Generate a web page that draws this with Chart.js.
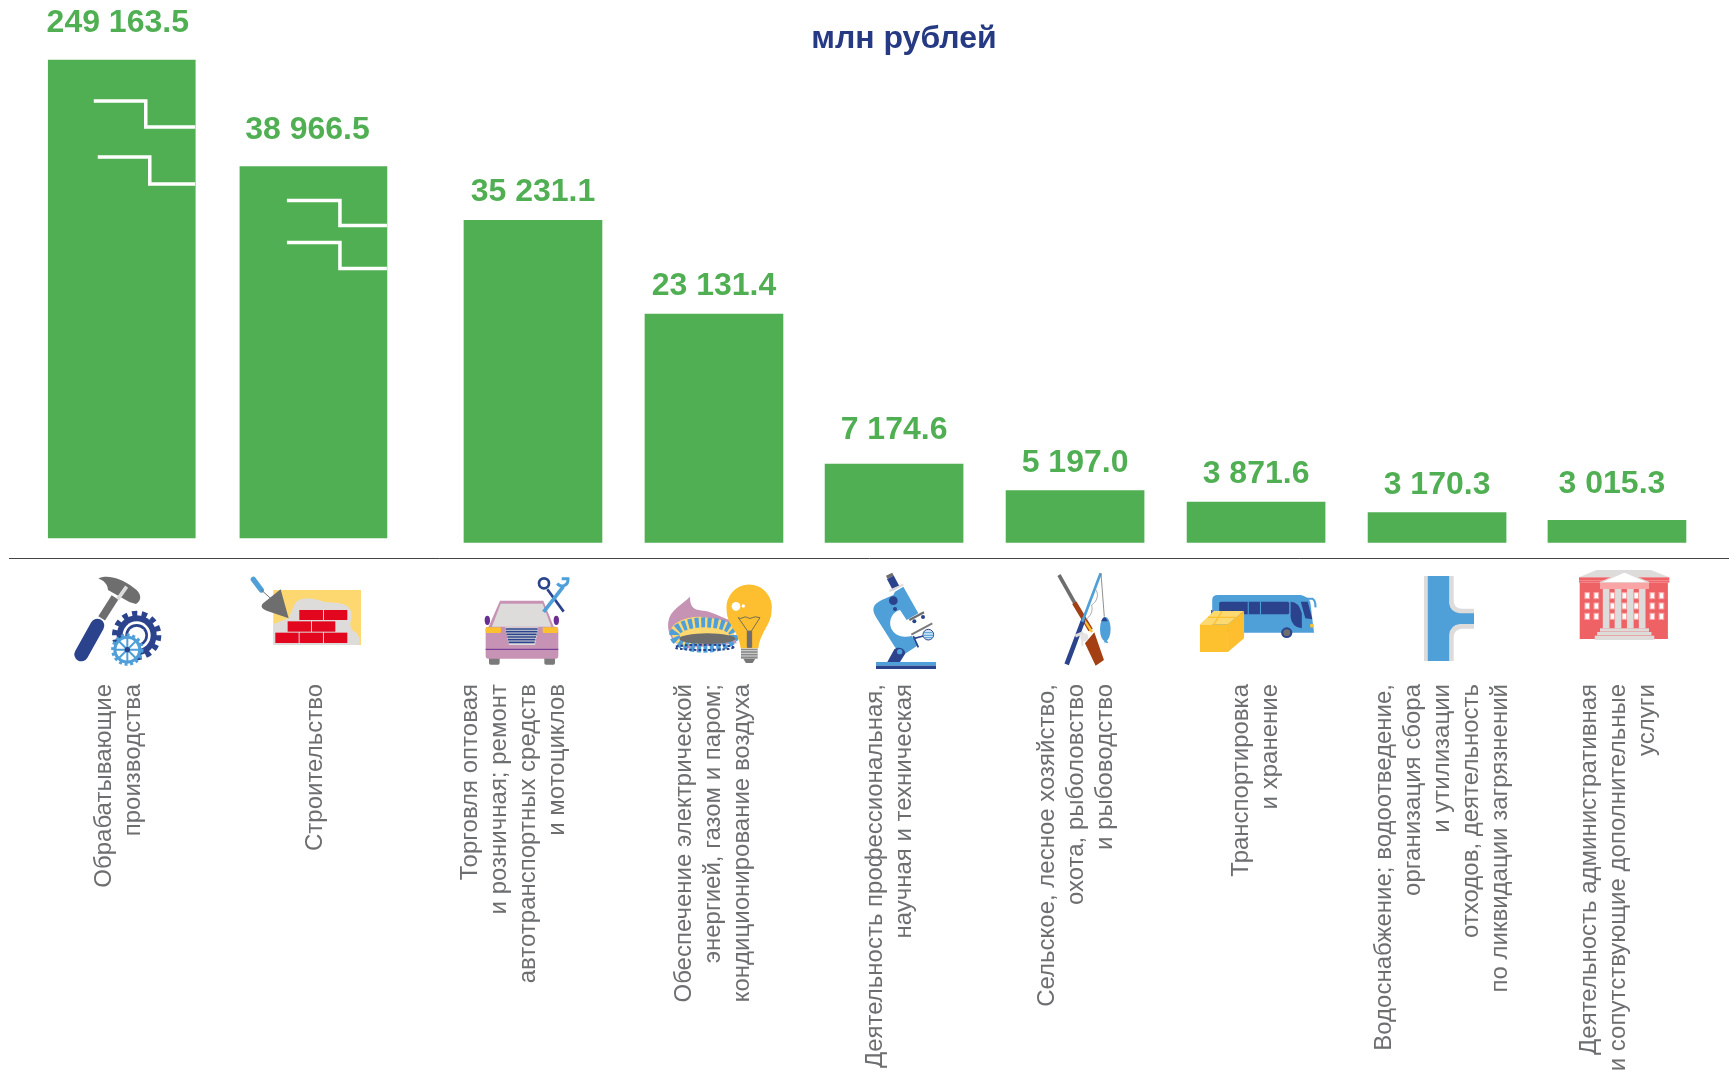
<!DOCTYPE html>
<html lang="ru">
<head>
<meta charset="utf-8">
<title>млн рублей</title>
<script src="https://cdn.jsdelivr.net/npm/chart.js@4"></script>
<style>
  html, body { margin: 0; padding: 0; background: #fff; overflow: hidden; }
  #box { position: relative; width: 1729px; height: 1073px; }
  #chart { position: absolute; left: 0; top: 0; }
  #icons { position: absolute; left: 0; top: 0; pointer-events: none; }
</style>
</head>
<body>
<div id="box">
<canvas id="chart" width="1729" height="1073"></canvas>
<svg id="icons" width="1729" height="1073" viewBox="0 0 1729 1073">
  <!-- молоток и шестерни -->
  <g transform="translate(40,560) scale(.3333)">
    <path d="M185 175 L225 112" stroke="#6e6e6e" stroke-width="24" fill="none"/>
    <path d="M124 283 L172 197" stroke="#2a438c" stroke-width="42" stroke-linecap="round" fill="none"/>
    <path d="M175 56 C195 44 240 50 282 84 C306 100 306 122 288 132 L268 126 L204 90 C204 72 190 60 175 56Z" fill="#6e6e6e"/>
    <path d="M233 118 L260 80" stroke="#dedcdb" stroke-width="11" fill="none"/>
    <circle cx="290" cy="226" r="60" fill="#2a438c"/>
    <circle cx="290" cy="226" r="66" fill="none" stroke="#2a438c" stroke-width="16" stroke-dasharray="16 13.5"/>
    <circle cx="290" cy="226" r="42" fill="#fff"/>
    <circle cx="290" cy="226" r="34" fill="#2a438c"/>
    <circle cx="290" cy="226" r="26" fill="#fff"/>
    <circle cx="262" cy="269" r="38" fill="none" stroke="#4f9fd9" stroke-width="8"/>
    <circle cx="262" cy="269" r="44" fill="none" stroke="#4f9fd9" stroke-width="9" stroke-dasharray="9 8"/>
    <circle cx="262" cy="269" r="36" fill="#fff"/>
    <circle cx="262" cy="269" r="36" fill="none" stroke="#4f9fd9" stroke-width="7"/>
    <path d="M262 233 V305 M226 269 H298 M237 244 L287 294 M287 244 L237 294" stroke="#4f9fd9" stroke-width="6"/>
    <circle cx="262" cy="269" r="8" fill="#2a438c"/>
  </g>
  <!-- кирпичная кладка -->
  <g transform="translate(40,560) scale(.3333)">
    <rect x="700" y="90" width="263" height="165" fill="#fdd870"/>
    <path d="M700 192 L745 175 L765 130 C780 108 830 115 850 125 C890 130 930 125 935 160 C935 190 920 200 950 220 C965 240 960 255 955 255 L700 255Z" fill="#dedcdb"/>
    <g fill="#e2061e">
      <rect x="778" y="150" width="71" height="30"/><rect x="852" y="150" width="70" height="30"/>
      <rect x="743" y="184" width="70" height="31"/><rect x="816" y="184" width="70" height="31"/>
      <rect x="706" y="218" width="70" height="31"/><rect x="779" y="218" width="70" height="31"/><rect x="852" y="218" width="70" height="31"/>
    </g>
    <path d="M640 58 L664 90" stroke="#4f9fd9" stroke-width="16" stroke-linecap="round"/>
    <path d="M664 90 L695 118" stroke="#6e6e6e" stroke-width="3"/>
    <path d="M722 88 L746 175 L680 152 C662 145 660 135 675 125Z" fill="#6e6e6e"/>
  </g>
  <!-- автомобиль -->
  <g transform="translate(460,560) scale(.3333)">
    <rect x="87" y="290" width="32" height="24" rx="5" fill="#7a7a7a"/><rect x="253" y="290" width="32" height="24" rx="5" fill="#7a7a7a"/>
    <ellipse cx="82" cy="181" rx="8" ry="14" fill="#6a2d91"/><ellipse cx="289" cy="181" rx="8" ry="14" fill="#6a2d91"/>
    <path d="M120 122 H250 L283 205 H84Z" fill="#c693b4"/>
    <rect x="77" y="200" width="218" height="96" rx="8" fill="#c693b4"/>
    <path d="M122 131 H248 L274 200 H96Z" fill="#dedcdb"/>
    <rect x="77" y="202" width="46" height="17" rx="4" fill="#fdc02f"/><rect x="248" y="202" width="46" height="17" rx="4" fill="#fdc02f"/>
    <path d="M135 202 H235 L225 255 H147Z" fill="#dedcdb"/>
    <path d="M137 207 H233 M138 215 H232 M140 223 H230 M142 231 H228 M144 239 H226 M146 247 H224" stroke="#2a438c" stroke-width="5"/>
    <path d="M77 268 H295" stroke="#6a2d91" stroke-width="3"/>
    <path d="M311 155 L262 88" stroke="#2a438c" stroke-width="8"/>
    <circle cx="252" cy="70" r="15" fill="none" stroke="#2a438c" stroke-width="8"/>
    <path d="M251 156 L310 80" stroke="#4f9fd9" stroke-width="11"/>
    <path d="M292 70 C302 85 326 78 324 56 L305 56" fill="none" stroke="#4f9fd9" stroke-width="9"/>
  </g>
  <!-- горелка и лампочка -->
  <g transform="translate(460,560) scale(.3333)">
    <path d="M690 110 C690 140 700 150 730 152 C760 155 790 175 810 180 L830 250 L680 265 C640 255 620 220 625 185 C630 150 665 135 690 110Z" fill="#c693b4"/>
    <path d="M632 210 C640 185 680 170 720 170 C770 175 800 180 822 200 L822 240 L660 260 C645 245 635 230 632 210Z" fill="#fdd870"/>
    <ellipse cx="733" cy="225" rx="90" ry="38" fill="none" stroke="#4f9fd9" stroke-width="30" stroke-dasharray="12 7"/>
    <ellipse cx="733" cy="262" rx="88" ry="8" fill="none" stroke="#2a438c" stroke-width="6" stroke-dasharray="8 6"/>
    <ellipse cx="742" cy="236" rx="84" ry="16" fill="#6e6e6e"/>
    <path d="M800 150 A68 68 0 1 1 935 150 C935 195 900 215 895 265 H842 C838 215 800 195 800 150Z" fill="#fdbf2f"/>
    <circle cx="828" cy="139" r="13" fill="#fff"/><circle cx="850" cy="138" r="5" fill="#fff"/>
    <path d="M835 173 Q842 178 849 173 T863 173 T877 173 T900 173 L875 212 V262 H862 V212Z" fill="none" stroke="#5a5a5a" stroke-width="2.5"/>
    <rect x="862" y="212" width="13" height="50" fill="#6e6e6e"/>
    <rect x="843" y="266" width="50" height="30" fill="#8a8a8a"/>
    <path d="M843 272 H893 M843 280 H893 M843 288 H893" stroke="#fff" stroke-width="2"/>
    <path d="M850 296 H886 L878 309 H858Z" fill="#777"/>
  </g>
  <!-- микроскоп -->
  <g transform="translate(850,560) scale(.3333)">
    <rect x="78" y="306" width="180" height="11" fill="#4f9fd9"/><rect x="78" y="317" width="180" height="10" fill="#2a438c"/>
    <path d="M135 95 L160 80 L205 160 L170 180 L150 150 C125 155 110 190 130 215 C145 232 170 232 185 228 L205 255 L160 285 L135 262 L80 175 C65 150 65 135 95 120 L130 105Z" fill="#4f9fd9"/>
    <path d="M112 306 L133 268 C150 256 168 270 165 282 L150 306Z" fill="#2a438c"/>
    <circle cx="149" cy="275" r="8" fill="#4f9fd9"/>
    <path d="M121 52 L139 86" stroke="#2a438c" stroke-width="23"/>
    <path d="M110 52 L129 43" stroke="#6e6e6e" stroke-width="10"/>
    <path d="M118 93 L160 74" stroke="#dedcdb" stroke-width="6"/>
    <circle cx="130" cy="122" r="13" fill="#2a438c"/><circle cx="135" cy="147" r="6" fill="#2a438c"/>
    <path d="M178 180 L222 157" stroke="#6e6e6e" stroke-width="7"/>
    <circle cx="193" cy="184" r="6" fill="#2a438c"/><circle cx="219" cy="171" r="6" fill="#2a438c"/>
    <path d="M184 224 L247 190" stroke="#7a7a7a" stroke-width="6"/>
    <path d="M190 236 L220 228 M190 228 L205 262" stroke="#2a438c" stroke-width="5"/>
    <circle cx="235" cy="224" r="16" fill="#cfe3f3" stroke="#2a438c" stroke-width="3"/>
    <path d="M222 218 L248 218 M220 226 L250 226 M223 233 L247 233" stroke="#4f9fd9" stroke-width="3"/>
  </g>
  <!-- охота и рыболовство -->
  <g transform="translate(850,560) scale(.3333)">
    <path d="M627 45 L675 130" stroke="#6e6e6e" stroke-width="11"/>
    <path d="M673 128 L722 210" stroke="#a33f13" stroke-width="15"/>
    <path d="M704 182 L726 216" stroke="#fdbf2f" stroke-width="7"/>
    <path d="M705 250 L733 217 L762 300 L737 317Z" fill="#a33f13"/>
    <path d="M650 313 L700 180" stroke="#2a438c" stroke-width="14"/>
    <path d="M697 185 L752 40" stroke="#4f9fd9" stroke-width="8"/>
    <path d="M753 40 L763 170" stroke="#7a7a7a" stroke-width="2.5"/>
    <path d="M735 85 C750 105 740 125 725 135 C730 155 720 170 708 178" fill="none" stroke="#9a9a9a" stroke-width="2.5"/>
    <path d="M676 228 L700 218" stroke="#dedcdb" stroke-width="9"/>
    <circle cx="703" cy="232" r="12" fill="#e4e4e4"/><path d="M697 240 V258" stroke="#e4e4e4" stroke-width="6"/>
    <ellipse cx="766" cy="207" rx="16" ry="36" fill="#4f9fd9"/>
    <path d="M766 235 L776 250 L762 247Z" fill="#4f9fd9"/>
    <path d="M754 184 Q763 160 773 184Z" fill="#2a438c"/>
  </g>
  <!-- автобус и груз -->
  <g transform="translate(1180,560) scale(.35,.3333)">
    <rect x="89" y="150" width="6" height="16" fill="#e2061e"/>
    <path d="M92 120 Q92 105 108 105 H345 Q365 110 372 125 L383 218 H92Z" fill="#4f9fd9"/>
    <rect x="112" y="125" width="200" height="38" rx="5" fill="#2a438c"/>
    <path d="M195 125 V163 M230 125 V163" stroke="#4f9fd9" stroke-width="3"/>
    <path d="M316 125 Q340 125 348 160 V205 Q318 200 316 170Z" fill="#2a438c"/>
    <path d="M345 125 H365 L378 178 L358 175Z" fill="#2a438c"/>
    <path d="M360 116 H378 Q388 122 387 142" fill="none" stroke="#4f9fd9" stroke-width="6"/>
    <circle cx="305" cy="218" r="16" fill="#2a438c"/><circle cx="305" cy="218" r="10" fill="#6e6e6e"/>
    <rect x="372" y="192" width="10" height="10" fill="#fdbf2f"/>
    <path d="M57 193 H137 V276 H57Z" fill="#fdc02f"/>
    <path d="M57 193 L97 153 H183 L137 193Z" fill="#fed970"/>
    <path d="M137 193 L183 153 V235 L137 276Z" fill="#fdbf2f"/>
    <path d="M80 172 H160 M120 153 L97 193" stroke="#fdc02f" stroke-width="4"/>
  </g>
  <!-- труба -->
  <g transform="translate(1180,560) scale(.35,.3333)">
    <path d="M697 48 H782 V125 Q785 145 805 146 H840 V206 H805 Q785 208 782 228 V303 H697Z" fill="#dedcdb"/>
    <path d="M708 48 H769 V130 Q772 158 800 160 H840 V192 H800 Q772 195 769 225 V303 H708Z" fill="#4f9fd9"/>
  </g>
  <!-- здание -->
  <g id="building" transform="translate(1180,560) scale(.35,.3333)">
    <path d="M1140 52 L1190 30 H1345 L1398 52Z" fill="#dedcdb"/>
    <rect x="1140" y="52" width="258" height="16" fill="#ee6266"/>
    <path d="M1140 62 H1398" stroke="#f9a5a5" stroke-width="2"/>
    <rect x="1142" y="68" width="252" height="169" fill="#ee6266"/>
    <path d="M1200 68 L1270 36 L1340 68Z" fill="#fff" stroke="#dedcdb" stroke-width="4"/>
    <rect x="1200" y="68" width="140" height="19" fill="#f9a5a5"/>
    <g fill="#dedcdb">
      <rect x="1208" y="87" width="19" height="118"/><rect x="1242" y="87" width="19" height="118"/>
      <rect x="1277" y="87" width="19" height="118"/><rect x="1311" y="87" width="19" height="118"/>
      <rect x="1200" y="205" width="140" height="10"/><rect x="1192" y="216" width="155" height="10"/><rect x="1185" y="227" width="170" height="13"/>
    </g>
  </g>
</svg>
</div>
<script>
const categories = [
    ['Обрабатывающие', 'производства'],
    ['Строительство'],
    ['Торговля оптовая', 'и розничная; ремонт', 'автотранспортных средств', 'и мотоциклов'],
    ['Обеспечение электрической', 'энергией, газом и паром;', 'кондиционирование воздуха'],
    ['Деятельность профессиональная,', 'научная и техническая'],
    ['Сельское, лесное хозяйство,', 'охота, рыболовство', 'и рыбоводство'],
    ['Транспортировка', 'и хранение'],
    ['Водоснабжение; водоотведение,', 'организация сбора', 'и утилизации', 'отходов, деятельность', 'по ликвидации загрязнений'],
    ['Деятельность административная', 'и сопутствующие дополнительные', 'услуги'],
];
// подписи на столбцах, млн рублей
const values = [249163.5, 38966.5, 35231.1, 23131.4, 7174.6, 5197.0, 3871.6, 3170.3, 3015.3];
// высоты столбцов с картинки: масштаб там условный, первые два с разрывом
const drawnHeights = [498, 391.5, 337.6, 244, 94, 67.4, 56, 45.4, 37.6];

// места столбцов и подписей на оси x, в шагах между столбцами
const barSlots = [0.623, 1.682, 2.895, 3.895, 4.890, 5.890, 6.890, 7.890, 8.884];
const labelSlots = [0.527, 1.691, 2.549, 3.729, 4.789, 5.737, 6.811, 7.598, 8.729];

const GREEN = '#50af53';
const labelShift = [-4, -6, 0, 0, 0, 0, 0, 0, -5];
const labelGap = [37, 36.5, 28.4, 27.5, 34, 27.6, 28, 27.6, 36.4];
// ступеньки разрыва: отступы от левого верхнего угла столбца
const breaks = {
    0: [[45.5, 41, 96.5, 67], [49.5, 97, 100.5, 124]],
    1: [[47, 34, 99, 59], [47, 76, 99, 102]],
};

const toPoints = (from, to) => drawnHeights.slice(from, to).map((y, i) => ({ x: barSlots[from + i], y }));
const fmt = v => v.toFixed(1).replace(/\B(?=(\d{3})+(?!\d))/g, ' ');

const barText = {
    id: 'barText',
    afterDatasetsDraw(chart) {
        const ctx = chart.ctx;
        const bars = chart.getDatasetMeta(0).data.concat(chart.getDatasetMeta(1).data);
        ctx.save();
        ctx.textAlign = 'center';
        ctx.textBaseline = 'middle';
        ctx.font = 'bold 32px "Liberation Sans"';
        ctx.fillStyle = GREEN;
        bars.forEach((bar, i) => {
            ctx.fillText(fmt(values[i]), bar.x + labelShift[i], bar.y - labelGap[i]);
        });
        ctx.font = 'bold 32px "Liberation Sans"';
        ctx.fillStyle = '#253a83';
        ctx.fillText('млн рублей', 904, 39);

        ctx.strokeStyle = '#fff';
        ctx.lineWidth = 3.5;
        Object.keys(breaks).forEach(i => {
            const bar = bars[i];
            const left = bar.x - bar.width / 2;
            breaks[i].forEach(([x1, y1, x2, y2]) => {
                ctx.beginPath();
                ctx.moveTo(left + x1, bar.y + y1);
                ctx.lineTo(left + x2 + 1, bar.y + y1);
                ctx.lineTo(left + x2 + 1, bar.y + y2);
                ctx.lineTo(left + bar.width, bar.y + y2);
                ctx.stroke();
            });
        });
        ctx.restore();
    }
};

new Chart(document.getElementById('chart'), {
    type: 'bar',
    data: {
        datasets: [
            { label: 'С разрывом', data: toPoints(0, 2), backgroundColor: GREEN, barThickness: 147, base: 20, grouped: false },
            { label: 'Остальные', data: toPoints(2, 9), backgroundColor: GREEN, barThickness: 138, base: 15.5, grouped: false }
        ]
    },
    plugins: [barText],
    options: {
        responsive: false,
        animation: false,
        layout: { padding: { left: 9 } },
        plugins: { legend: { display: false }, title: { display: false }, tooltip: { enabled: false } },
        scales: {
            x: {
                type: 'linear',
                offset: false,
                min: 0,
                max: 9.503,
                grid: { display: false, drawTicks: false },
                border: { display: true, color: '#444', width: 1 },
                afterBuildTicks(scale) { scale.ticks = labelSlots.map(value => ({ value })); },
                afterFit(scale) { scale.height = 515; scale.paddingLeft = 0; scale.paddingRight = 0; },
                ticks: {
                    autoSkip: false,
                    minRotation: 90,
                    maxRotation: 90,
                    padding: 126,
                    color: '#6d6e70',
                    font: { family: '"Liberation Sans"', size: 24, lineHeight: 1.21 },
                    callback: (value, i) => categories[i]
                }
            },
            y: { display: false, min: 0, max: 558 }
        }
    }
});

// окна здания
const building = document.getElementById('building');
[1157, 1183, 1229, 1263, 1297, 1343, 1369].forEach(x => {
    [98, 129, 160].forEach(y => {
        const w = document.createElementNS('http://www.w3.org/2000/svg', 'rect');
        w.setAttribute('x', x); w.setAttribute('y', y);
        w.setAttribute('width', 13); w.setAttribute('height', 18);
        w.setAttribute('fill', '#fff'); w.setAttribute('stroke', '#f9a5a5'); w.setAttribute('stroke-width', 3);
        building.appendChild(w);
    });
});
</script>
</body>
</html>
